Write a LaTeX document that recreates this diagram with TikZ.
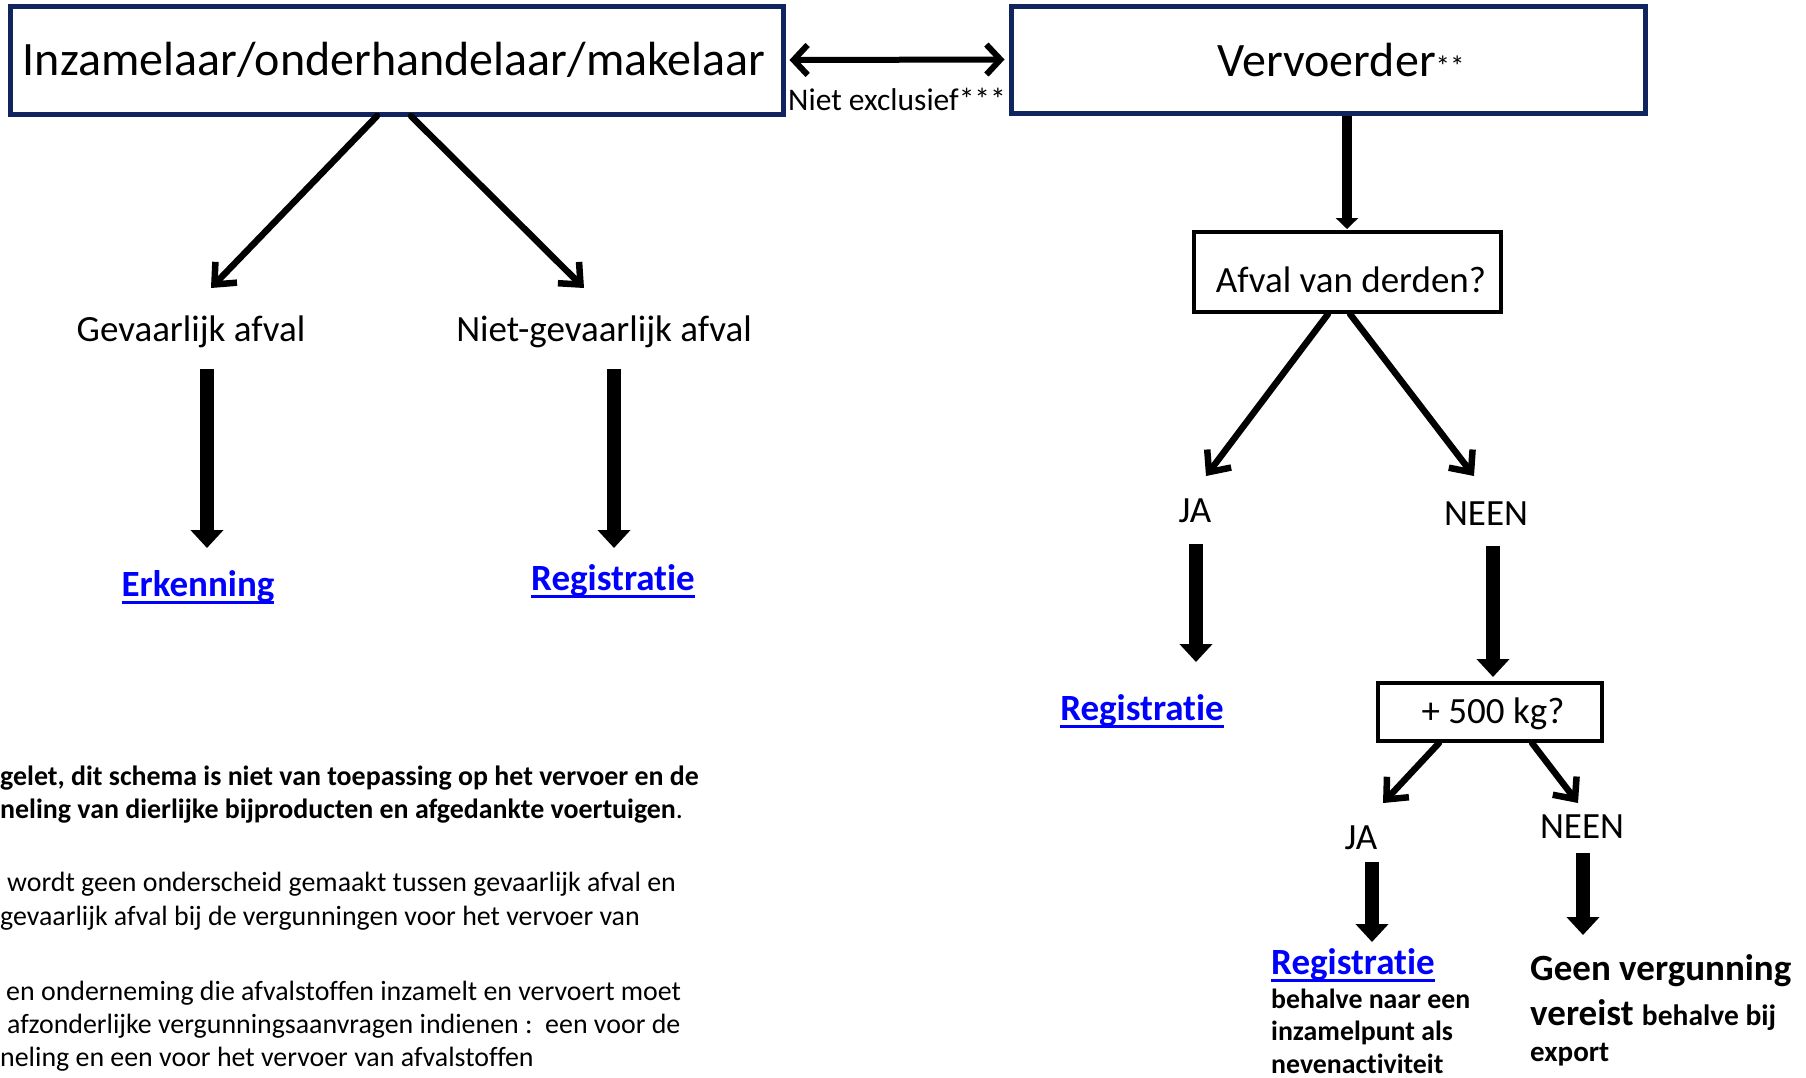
\documentclass[tikz,border=0pt]{standalone}
\usepackage{fontspec}
\setmainfont{Carlito}[Ligatures={NoCommon}]
\usetikzlibrary{arrows.meta,calc}
\definecolor{navy}{RGB}{16,36,96}
\definecolor{linkblue}{RGB}{0,0,255}
\newcommand\linkul[1]{\setbox0=\hbox{#1}\rlap{\rule[\dimexpr-\dp0-1.5pt\relax]{\wd0}{2.6pt}}\box0}
\begin{document}
\begin{tikzpicture}[x=1pt,y=-1pt,
  navybox/.style={draw=navy, line width=5pt, fill=white, rectangle, inner sep=0pt},
  blackbox/.style={draw=black, line width=4.5pt, fill=white, rectangle, inner sep=0pt},
  bigtxt/.style={inner sep=0pt, font=\fontsize{48}{56}\selectfont},
  midtxt/.style={inner sep=0pt, font=\fontsize{37}{44}\selectfont},
  linktxt/.style={inner sep=0pt, text=linkblue, font=\bfseries\fontsize{37}{44}\selectfont},
  smallbold/.style={inner sep=0pt, font=\bfseries\fontsize{27.8}{32.5}\selectfont},
  note/.style={anchor=west, inner sep=0pt, font=\fontsize{27.9}{34}\selectfont},
  thin/.style={line width=6.5pt, line cap=round, line join=round, -{Straight Barb[length=17pt,width=30pt]}},
  fat/.style={line width=14pt, -{Triangle[length=18pt,width=32pt]}},
  medfat/.style={line width=10pt, -{Triangle[length=11pt,width=22pt]}}
]
\useasboundingbox (0,0) rectangle (1806,1077);
\fill[white] (0,0) rectangle (1806,1077);

% boxes
\node[navybox, minimum width=773pt, minimum height=108pt] (lbox) at (396.5,60) {};
\node[bigtxt] (ltxt) at (394,60) {Inzamelaar/onderhandelaar/makelaar};
\node[navybox, minimum width=634pt, minimum height=107pt] (rbox) at (1328,59.5) {};
\node[bigtxt] (rtxt) at (1341,60) {Vervoerder{\fontsize{29}{30}\selectfont **}};
\node[inner sep=0pt, font=\fontsize{31.5}{36}\selectfont] (niet) at (897,99) {Niet exclusief***};

\node[blackbox, minimum width=307pt, minimum height=80pt] (afval) at (1347.5,272) {};
\node[midtxt] (afvaltxt) at (1351,280) {Afval van derden?};
\node[blackbox, minimum width=224pt, minimum height=58pt] (kg) at (1490,712) {};
\node[midtxt] (kgtxt) at (1493,714) {+ 500 kg?};

% labels
\node[midtxt] (gev) at (191,331.5) {Gevaarlijk afval};
\node[midtxt] (ngev) at (604,331.5) {Niet-gevaarlijk afval};
\node[linktxt] (erk) at (198,587) {\linkul{Erkenning}};
\node[linktxt] (reg1) at (613,581) {\linkul{Registratie}};
\node[midtxt] (ja1) at (1195,511) {JA};
\node[midtxt] (neen1) at (1486,514) {NEEN};
\node[linktxt] (reg2) at (1142,711) {\linkul{Registratie}};
\node[midtxt] (ja2) at (1361,838) {JA};
\node[midtxt] (neen2) at (1582,827) {NEEN};
\node[linktxt, anchor=west] (reg3) at (1271,965) {\linkul{Registratie}};
\node[smallbold, anchor=west, align=left] (beh) at (1271,1031) {behalve naar een\\inzamelpunt als\\nevenactiviteit};
\node[inner sep=0pt, anchor=west, font=\bfseries\fontsize{37}{44}\selectfont] (geen1) at (1530,971) {Geen vergunning};
\node[inner sep=0pt, anchor=west, font=\bfseries\fontsize{37}{44}\selectfont] (geen2) at (1530,1015) {vereist {\fontsize{29.5}{33}\selectfont behalve bij}};
\node[inner sep=0pt, anchor=west, font=\bfseries\fontsize{29}{33}\selectfont] (geen3) at (1530,1055) {export};

% notes
\node[note, font=\bfseries\fontsize{27.9}{34}\selectfont] (n1) at (0,778) {gelet, dit schema is niet van toepassing op het vervoer en de};
\node[note] (n2) at (0,811) {\textbf{neling van dierlijke bijproducten en afgedankte voertuigen}.};
\node[note] (n3) at (7,884) {wordt geen onderscheid gemaakt tussen gevaarlijk afval en};
\node[note] (n4) at (0,918) {gevaarlijk afval bij de vergunningen voor het vervoer van};
\node[note] (n5) at (6,993) {en onderneming die afvalstoffen inzamelt en vervoert moet};
\node[note] (n6) at (7,1026) {afzonderlijke vergunningsaanvragen indienen :\ \ een voor de};
\node[note] (n7) at (0,1059) {neling en een voor het vervoer van afvalstoffen};

% connector end points
\coordinate (l1s) at (377,116);
\coordinate (l1e) at (211,288);
\coordinate (l2s) at (411,116);
\coordinate (l2e) at (584,288);
\coordinate (g1s) at (207,369);
\coordinate (g1e) at (207,548);
\coordinate (g2s) at (614,369);
\coordinate (g2e) at (614,548);
\coordinate (vs) at (1347,116);
\coordinate (ve) at (1347,229);
\coordinate (a1s) at (1328,314);
\coordinate (a1e) at (1206,476);
\coordinate (a2s) at (1350,314);
\coordinate (a2e) at (1474,476);
\coordinate (j1s) at (1196,544);
\coordinate (j1e) at (1196,662);
\coordinate (n1s) at (1493,546);
\coordinate (n1e) at (1493,677);
\coordinate (k1s) at (1439,743);
\coordinate (k1e) at (1383,803);
\coordinate (k2s) at (1532,743);
\coordinate (k2e) at (1578,803);
\coordinate (j2s) at (1372,862);
\coordinate (j2e) at (1372,942);
\coordinate (n2s) at (1583,853);
\coordinate (n2e) at (1583,935);

% connectors
\draw[line width=6pt, line cap=round, line join=round, {Straight Barb[length=14pt,width=30pt]}-{Straight Barb[length=14pt,width=30pt]}, shorten <=4pt, shorten >=4pt] (lbox.east) -- (rbox.west);
\draw[thin] (l1s) -- (l1e);
\draw[thin] (l2s) -- (l2e);
\draw[fat] (g1s) -- (g1e);
\draw[fat] (g2s) -- (g2e);
\draw[medfat] (vs) -- (ve);
\draw[thin] (a1s) -- (a1e);
\draw[thin] (a2s) -- (a2e);
\draw[fat] (j1s) -- (j1e);
\draw[fat] (n1s) -- (n1e);
\draw[thin] (k1s) -- (k1e);
\draw[thin] (k2s) -- (k2e);
\draw[fat] (j2s) -- (j2e);
\draw[fat] (n2s) -- (n2e);
\end{tikzpicture}
\end{document}
